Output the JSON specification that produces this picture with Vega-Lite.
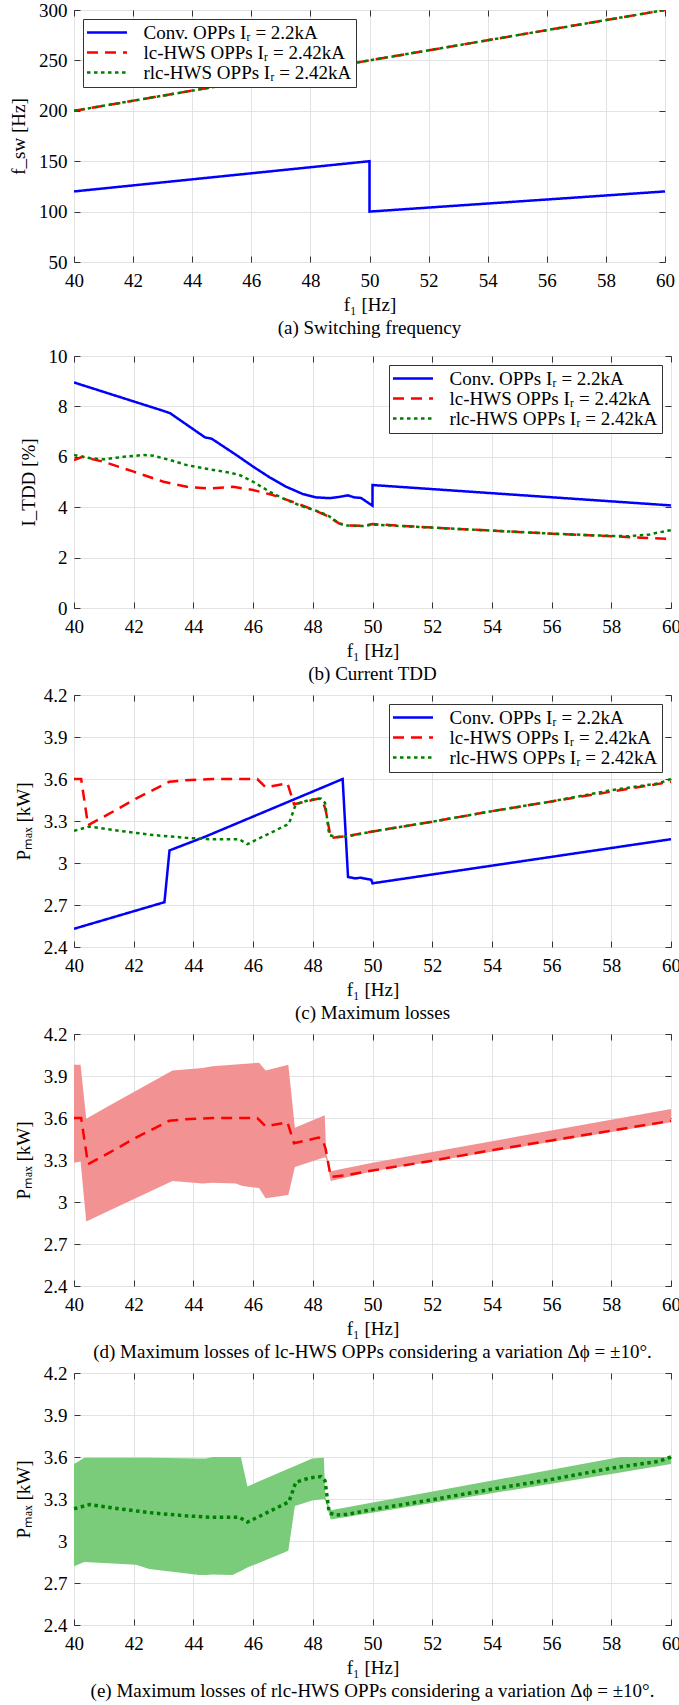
{
  "$schema": "https://vega.github.io/schema/vega-lite/v6.json",
  "padding": {"left": 9, "top": 0, "right": 0, "bottom": 0},
  "spacing": 0,
  "datasets": {
    "sw": [
      {"f1": 40, "v": 120, "s": "Conv. OPPs"}, {"f1": 50, "v": 150, "s": "Conv. OPPs"}, {"f1": 50, "v": 100, "s": "Conv. OPPs"}, {"f1": 60, "v": 120, "s": "Conv. OPPs"},
      {"f1": 40, "v": 200, "s": "lc-HWS OPPs"}, {"f1": 60, "v": 300, "s": "lc-HWS OPPs"},
      {"f1": 40, "v": 200, "s": "rlc-HWS OPPs"}, {"f1": 60, "v": 300, "s": "rlc-HWS OPPs"}
    ],
    "tdd": [
      {"f1": 40, "v": 8.95, "s": "Conv. OPPs"}, {"f1": 43.0, "v": 7.82, "s": "Conv. OPPs"}, {"f1": 43.22, "v": 7.73, "s": "Conv. OPPs"}, {"f1": 44.39, "v": 6.77, "s": "Conv. OPPs"}, {"f1": 44.61, "v": 6.72, "s": "Conv. OPPs"}, {"f1": 45.44, "v": 6.07, "s": "Conv. OPPs"}, {"f1": 46.0, "v": 5.61, "s": "Conv. OPPs"}, {"f1": 46.56, "v": 5.18, "s": "Conv. OPPs"}, {"f1": 47.11, "v": 4.81, "s": "Conv. OPPs"}, {"f1": 47.67, "v": 4.52, "s": "Conv. OPPs"}, {"f1": 48.11, "v": 4.39, "s": "Conv. OPPs"}, {"f1": 48.56, "v": 4.36, "s": "Conv. OPPs"}, {"f1": 48.9, "v": 4.41, "s": "Conv. OPPs"}, {"f1": 49.17, "v": 4.47, "s": "Conv. OPPs"}, {"f1": 49.39, "v": 4.39, "s": "Conv. OPPs"}, {"f1": 49.61, "v": 4.37, "s": "Conv. OPPs"}, {"f1": 50.0, "v": 4.06, "s": "Conv. OPPs"}, {"f1": 50.0, "v": 4.88, "s": "Conv. OPPs"}, {"f1": 60, "v": 4.07, "s": "Conv. OPPs"},
      {"f1": 40, "v": 5.87, "s": "lc-HWS OPPs"}, {"f1": 40.28, "v": 6.0, "s": "lc-HWS OPPs"}, {"f1": 41.0, "v": 5.8, "s": "lc-HWS OPPs"}, {"f1": 42.0, "v": 5.41, "s": "lc-HWS OPPs"}, {"f1": 43.0, "v": 5.01, "s": "lc-HWS OPPs"}, {"f1": 43.78, "v": 4.81, "s": "lc-HWS OPPs"}, {"f1": 44.56, "v": 4.74, "s": "lc-HWS OPPs"}, {"f1": 45.33, "v": 4.81, "s": "lc-HWS OPPs"}, {"f1": 46.0, "v": 4.68, "s": "lc-HWS OPPs"}, {"f1": 46.67, "v": 4.48, "s": "lc-HWS OPPs"}, {"f1": 47.33, "v": 4.21, "s": "lc-HWS OPPs"}, {"f1": 48.0, "v": 3.91, "s": "lc-HWS OPPs"}, {"f1": 48.5, "v": 3.64, "s": "lc-HWS OPPs"}, {"f1": 48.89, "v": 3.35, "s": "lc-HWS OPPs"}, {"f1": 49.22, "v": 3.27, "s": "lc-HWS OPPs"}, {"f1": 49.67, "v": 3.26, "s": "lc-HWS OPPs"}, {"f1": 50.0, "v": 3.33, "s": "lc-HWS OPPs"}, {"f1": 52, "v": 3.19, "s": "lc-HWS OPPs"}, {"f1": 54, "v": 3.07, "s": "lc-HWS OPPs"}, {"f1": 56, "v": 2.95, "s": "lc-HWS OPPs"}, {"f1": 58, "v": 2.85, "s": "lc-HWS OPPs"}, {"f1": 59, "v": 2.79, "s": "lc-HWS OPPs"}, {"f1": 60, "v": 2.74, "s": "lc-HWS OPPs"},
      {"f1": 40, "v": 6.07, "s": "rlc-HWS OPPs"}, {"f1": 40.56, "v": 5.94, "s": "rlc-HWS OPPs"}, {"f1": 41.0, "v": 5.9, "s": "rlc-HWS OPPs"}, {"f1": 41.67, "v": 6.0, "s": "rlc-HWS OPPs"}, {"f1": 42.33, "v": 6.07, "s": "rlc-HWS OPPs"}, {"f1": 42.67, "v": 6.04, "s": "rlc-HWS OPPs"}, {"f1": 43.22, "v": 5.87, "s": "rlc-HWS OPPs"}, {"f1": 43.78, "v": 5.67, "s": "rlc-HWS OPPs"}, {"f1": 44.56, "v": 5.5, "s": "rlc-HWS OPPs"}, {"f1": 45.22, "v": 5.37, "s": "rlc-HWS OPPs"}, {"f1": 45.56, "v": 5.27, "s": "rlc-HWS OPPs"}, {"f1": 46.0, "v": 5.01, "s": "rlc-HWS OPPs"}, {"f1": 46.56, "v": 4.61, "s": "rlc-HWS OPPs"}, {"f1": 47.0, "v": 4.35, "s": "rlc-HWS OPPs"}, {"f1": 47.67, "v": 4.02, "s": "rlc-HWS OPPs"}, {"f1": 48.11, "v": 3.86, "s": "rlc-HWS OPPs"}, {"f1": 48.5, "v": 3.68, "s": "rlc-HWS OPPs"}, {"f1": 48.89, "v": 3.35, "s": "rlc-HWS OPPs"}, {"f1": 49.17, "v": 3.27, "s": "rlc-HWS OPPs"}, {"f1": 49.67, "v": 3.25, "s": "rlc-HWS OPPs"}, {"f1": 50.0, "v": 3.31, "s": "rlc-HWS OPPs"}, {"f1": 52, "v": 3.19, "s": "rlc-HWS OPPs"}, {"f1": 54, "v": 3.07, "s": "rlc-HWS OPPs"}, {"f1": 56, "v": 2.95, "s": "rlc-HWS OPPs"}, {"f1": 58, "v": 2.86, "s": "rlc-HWS OPPs"}, {"f1": 58.6, "v": 2.85, "s": "rlc-HWS OPPs"}, {"f1": 59.29, "v": 2.92, "s": "rlc-HWS OPPs"}, {"f1": 59.6, "v": 3.0, "s": "rlc-HWS OPPs"}, {"f1": 60, "v": 3.09, "s": "rlc-HWS OPPs"}
    ],
    "loss": [
      {"f1": 40.0, "v": 2.53, "s": "Conv. OPPs"}, {"f1": 43.03, "v": 2.72, "s": "Conv. OPPs"}, {"f1": 43.2, "v": 3.09, "s": "Conv. OPPs"}, {"f1": 44.42, "v": 3.19, "s": "Conv. OPPs"}, {"f1": 44.64, "v": 3.21, "s": "Conv. OPPs"}, {"f1": 49.0, "v": 3.6, "s": "Conv. OPPs"}, {"f1": 49.18, "v": 2.9, "s": "Conv. OPPs"}, {"f1": 49.43, "v": 2.89, "s": "Conv. OPPs"}, {"f1": 49.59, "v": 2.895, "s": "Conv. OPPs"}, {"f1": 49.96, "v": 2.88, "s": "Conv. OPPs"}, {"f1": 50.0, "v": 2.855, "s": "Conv. OPPs"}, {"f1": 60, "v": 3.17, "s": "Conv. OPPs"},
      {"f1": 40, "v": 3.6, "s": "lc-HWS OPPs"}, {"f1": 40.24, "v": 3.6, "s": "lc-HWS OPPs"}, {"f1": 40.47, "v": 3.27, "s": "lc-HWS OPPs"}, {"f1": 41.08, "v": 3.34, "s": "lc-HWS OPPs"}, {"f1": 42.08, "v": 3.46, "s": "lc-HWS OPPs"}, {"f1": 43.19, "v": 3.58, "s": "lc-HWS OPPs"}, {"f1": 43.69, "v": 3.59, "s": "lc-HWS OPPs"}, {"f1": 44.64, "v": 3.6, "s": "lc-HWS OPPs"}, {"f1": 46.14, "v": 3.6, "s": "lc-HWS OPPs"}, {"f1": 46.42, "v": 3.54, "s": "lc-HWS OPPs"}, {"f1": 47.15, "v": 3.57, "s": "lc-HWS OPPs"}, {"f1": 47.37, "v": 3.42, "s": "lc-HWS OPPs"}, {"f1": 48.2, "v": 3.46, "s": "lc-HWS OPPs"}, {"f1": 48.32, "v": 3.45, "s": "lc-HWS OPPs"}, {"f1": 48.43, "v": 3.38, "s": "lc-HWS OPPs"}, {"f1": 48.6, "v": 3.18, "s": "lc-HWS OPPs"}, {"f1": 49.1, "v": 3.19, "s": "lc-HWS OPPs"}, {"f1": 50, "v": 3.225, "s": "lc-HWS OPPs"}, {"f1": 52, "v": 3.295, "s": "lc-HWS OPPs"}, {"f1": 54, "v": 3.37, "s": "lc-HWS OPPs"}, {"f1": 56, "v": 3.44, "s": "lc-HWS OPPs"}, {"f1": 58, "v": 3.51, "s": "lc-HWS OPPs"}, {"f1": 60, "v": 3.58, "s": "lc-HWS OPPs"},
      {"f1": 40, "v": 3.23, "s": "rlc-HWS OPPs"}, {"f1": 40.52, "v": 3.26, "s": "rlc-HWS OPPs"}, {"f1": 41.52, "v": 3.23, "s": "rlc-HWS OPPs"}, {"f1": 42.64, "v": 3.2, "s": "rlc-HWS OPPs"}, {"f1": 43.75, "v": 3.18, "s": "rlc-HWS OPPs"}, {"f1": 44.53, "v": 3.17, "s": "rlc-HWS OPPs"}, {"f1": 45.53, "v": 3.17, "s": "rlc-HWS OPPs"}, {"f1": 45.81, "v": 3.135, "s": "rlc-HWS OPPs"}, {"f1": 46.54, "v": 3.21, "s": "rlc-HWS OPPs"}, {"f1": 47.2, "v": 3.28, "s": "rlc-HWS OPPs"}, {"f1": 47.43, "v": 3.42, "s": "rlc-HWS OPPs"}, {"f1": 47.88, "v": 3.45, "s": "rlc-HWS OPPs"}, {"f1": 48.27, "v": 3.46, "s": "rlc-HWS OPPs"}, {"f1": 48.41, "v": 3.43, "s": "rlc-HWS OPPs"}, {"f1": 48.55, "v": 3.2, "s": "rlc-HWS OPPs"}, {"f1": 48.78, "v": 3.185, "s": "rlc-HWS OPPs"}, {"f1": 49.15, "v": 3.19, "s": "rlc-HWS OPPs"}, {"f1": 50, "v": 3.225, "s": "rlc-HWS OPPs"}, {"f1": 52, "v": 3.295, "s": "rlc-HWS OPPs"}, {"f1": 54, "v": 3.37, "s": "rlc-HWS OPPs"}, {"f1": 56, "v": 3.44, "s": "rlc-HWS OPPs"}, {"f1": 58, "v": 3.52, "s": "rlc-HWS OPPs"}, {"f1": 59.6, "v": 3.57, "s": "rlc-HWS OPPs"}, {"f1": 60, "v": 3.6, "s": "rlc-HWS OPPs"}
    ],
    "bandLc": [
      {"f1": 40.0, "lo": 3.28, "hi": 3.98}, {"f1": 40.22, "lo": 3.29, "hi": 3.98}, {"f1": 40.41, "lo": 2.86, "hi": 3.595}, {"f1": 41.19, "lo": 2.94, "hi": 3.69}, {"f1": 43.3, "lo": 3.15, "hi": 3.94}, {"f1": 44.31, "lo": 3.133, "hi": 3.958}, {"f1": 44.64, "lo": 3.138, "hi": 3.97}, {"f1": 45.42, "lo": 3.133, "hi": 3.982}, {"f1": 45.64, "lo": 3.114, "hi": 3.986}, {"f1": 46.2, "lo": 3.1, "hi": 3.995}, {"f1": 46.42, "lo": 3.026, "hi": 3.94}, {"f1": 47.18, "lo": 3.05, "hi": 3.98}, {"f1": 47.4, "lo": 3.25, "hi": 3.53}, {"f1": 48.4, "lo": 3.32, "hi": 3.62}, {"f1": 48.45, "lo": 3.31, "hi": 3.35}, {"f1": 48.6, "lo": 3.15, "hi": 3.22}, {"f1": 50, "lo": 3.22, "hi": 3.28}, {"f1": 60, "lo": 3.57, "hi": 3.665}
    ],
    "bandRlc": [
      {"f1": 40.0, "lo": 2.82, "hi": 3.55}, {"f1": 40.35, "lo": 2.85, "hi": 3.595}, {"f1": 42.08, "lo": 2.83, "hi": 3.595}, {"f1": 42.52, "lo": 2.8, "hi": 3.595}, {"f1": 44.2, "lo": 2.757, "hi": 3.59}, {"f1": 44.42, "lo": 2.758, "hi": 3.59}, {"f1": 44.64, "lo": 2.76, "hi": 3.6}, {"f1": 45.31, "lo": 2.757, "hi": 3.6}, {"f1": 45.59, "lo": 2.785, "hi": 3.6}, {"f1": 45.81, "lo": 2.81, "hi": 3.39}, {"f1": 47.18, "lo": 2.93, "hi": 3.516}, {"f1": 47.4, "lo": 3.25, "hi": 3.536}, {"f1": 47.98, "lo": 3.29, "hi": 3.59}, {"f1": 48.37, "lo": 3.3, "hi": 3.595}, {"f1": 48.42, "lo": 3.29, "hi": 3.31}, {"f1": 48.6, "lo": 3.154, "hi": 3.22}, {"f1": 58.3, "lo": 3.49, "hi": 3.6}, {"f1": 60, "lo": 3.55, "hi": 3.6}
    ]
  },
  "vconcat": [
    {
      "width": 591, "height": 252,
      "data": {"name": "sw"},
      "title": {"text": "(a) Switching frequency", "subtitle": " ", "subtitleFontSize": 7, "subtitlePadding": 0},
      "resolve": {"axis": {"x": "independent", "y": "independent"}},
      "layer": [
        {
          "mark": {"type": "line", "clip": true},
          "encoding": {
            "x": {"field": "f1", "type": "quantitative", "scale": {"domain": [40, 60]}, "axis": {"title": "f₁ [Hz]", "values": [40, 42, 44, 46, 48, 50, 52, 54, 56, 58, 60]}},
            "y": {"field": "v", "type": "quantitative", "scale": {"domain": [50, 300]}, "axis": {"title": "f_sw [Hz]", "values": [50, 100, 150, 200, 250, 300]}},
            "color": {"field": "s", "type": "nominal", "scale": {"domain": ["Conv. OPPs", "lc-HWS OPPs", "rlc-HWS OPPs"], "range": ["#0000ff", "#ff0000", "#008000"]}, "legend": {"orient": "top-left", "offset": 9, "labelExpr": "datum.label === 'Conv. OPPs' ? 'Conv. OPPs Iᵣ = 2.2kA' : datum.label + ' Iᵣ = 2.42kA'"}},
            "strokeDash": {"field": "s", "type": "nominal", "scale": {"domain": ["Conv. OPPs", "lc-HWS OPPs", "rlc-HWS OPPs"], "range": [[1, 0], [11, 7], [3.5, 3.5]]}, "legend": {"orient": "top-left", "offset": 9, "labelExpr": "datum.label === 'Conv. OPPs' ? 'Conv. OPPs Iᵣ = 2.2kA' : datum.label + ' Iᵣ = 2.42kA'"}},
            "strokeWidth": {"field": "s", "type": "nominal", "scale": {"domain": ["Conv. OPPs", "lc-HWS OPPs", "rlc-HWS OPPs"], "range": [2.5, 2.5, 3.5]}, "legend": {"orient": "top-left", "offset": 9, "labelExpr": "datum.label === 'Conv. OPPs' ? 'Conv. OPPs Iᵣ = 2.2kA' : datum.label + ' Iᵣ = 2.42kA'"}},
            "order": {"value": null}
          }
        },
        {
          "mark": {"type": "point", "opacity": 0},
          "encoding": {
            "x": {"field": "f1", "type": "quantitative", "scale": {"domain": [40, 60]}, "axis": {"orient": "top", "labels": false, "grid": false, "title": null, "values": [40, 42, 44, 46, 48, 50, 52, 54, 56, 58, 60]}},
            "y": {"field": "v", "type": "quantitative", "scale": {"domain": [50, 300]}, "axis": {"orient": "right", "labels": false, "grid": false, "title": null, "values": [50, 100, 150, 200, 250, 300]}}
          }
        }
      ]
    },
    {
      "width": 597, "height": 252,
      "data": {"name": "tdd"},
      "title": {"text": "(b) Current TDD"},
      "resolve": {"axis": {"x": "independent", "y": "independent"}},
      "layer": [
        {
          "mark": {"type": "line", "clip": true},
          "encoding": {
            "x": {"field": "f1", "type": "quantitative", "scale": {"domain": [40, 60]}, "axis": {"title": "f₁ [Hz]", "values": [40, 42, 44, 46, 48, 50, 52, 54, 56, 58, 60]}},
            "y": {"field": "v", "type": "quantitative", "scale": {"domain": [0, 10]}, "axis": {"title": "I_TDD [%]", "values": [0, 2, 4, 6, 8, 10]}},
            "color": {"field": "s", "type": "nominal", "scale": {"domain": ["Conv. OPPs", "lc-HWS OPPs", "rlc-HWS OPPs"], "range": ["#0000ff", "#ff0000", "#008000"]}, "legend": {"orient": "top-right", "offset": 9, "labelExpr": "datum.label === 'Conv. OPPs' ? 'Conv. OPPs Iᵣ = 2.2kA' : datum.label + ' Iᵣ = 2.42kA'"}},
            "strokeDash": {"field": "s", "type": "nominal", "scale": {"domain": ["Conv. OPPs", "lc-HWS OPPs", "rlc-HWS OPPs"], "range": [[1, 0], [11, 7], [3.5, 3.5]]}, "legend": {"orient": "top-right", "offset": 9, "labelExpr": "datum.label === 'Conv. OPPs' ? 'Conv. OPPs Iᵣ = 2.2kA' : datum.label + ' Iᵣ = 2.42kA'"}},
            "strokeWidth": {"field": "s", "type": "nominal", "scale": {"domain": ["Conv. OPPs", "lc-HWS OPPs", "rlc-HWS OPPs"], "range": [2.5, 2.5, 3.5]}, "legend": {"orient": "top-right", "offset": 9, "labelExpr": "datum.label === 'Conv. OPPs' ? 'Conv. OPPs Iᵣ = 2.2kA' : datum.label + ' Iᵣ = 2.42kA'"}},
            "order": {"value": null}
          }
        },
        {
          "mark": {"type": "point", "opacity": 0},
          "encoding": {
            "x": {"field": "f1", "type": "quantitative", "scale": {"domain": [40, 60]}, "axis": {"orient": "top", "labels": false, "grid": false, "title": null, "values": [40, 42, 44, 46, 48, 50, 52, 54, 56, 58, 60]}},
            "y": {"field": "v", "type": "quantitative", "scale": {"domain": [0, 10]}, "axis": {"orient": "right", "labels": false, "grid": false, "title": null, "values": [0, 2, 4, 6, 8, 10]}}
          }
        }
      ]
    },
    {
      "width": 597, "height": 252,
      "data": {"name": "loss"},
      "title": {"text": "(c) Maximum losses"},
      "resolve": {"axis": {"x": "independent", "y": "independent"}},
      "layer": [
        {
          "mark": {"type": "line", "clip": true},
          "encoding": {
            "x": {"field": "f1", "type": "quantitative", "scale": {"domain": [40, 60]}, "axis": {"title": "f₁ [Hz]", "values": [40, 42, 44, 46, 48, 50, 52, 54, 56, 58, 60]}},
            "y": {"field": "v", "type": "quantitative", "scale": {"domain": [2.4, 4.2]}, "axis": {"title": "Pₘₐₓ [kW]", "values": [2.4, 2.7, 3, 3.3, 3.6, 3.9, 4.2], "format": "~g"}},
            "color": {"field": "s", "type": "nominal", "scale": {"domain": ["Conv. OPPs", "lc-HWS OPPs", "rlc-HWS OPPs"], "range": ["#0000ff", "#ff0000", "#008000"]}, "legend": {"orient": "top-right", "offset": 9, "labelExpr": "datum.label === 'Conv. OPPs' ? 'Conv. OPPs Iᵣ = 2.2kA' : datum.label + ' Iᵣ = 2.42kA'"}},
            "strokeDash": {"field": "s", "type": "nominal", "scale": {"domain": ["Conv. OPPs", "lc-HWS OPPs", "rlc-HWS OPPs"], "range": [[1, 0], [11, 7], [3.5, 3.5]]}, "legend": {"orient": "top-right", "offset": 9, "labelExpr": "datum.label === 'Conv. OPPs' ? 'Conv. OPPs Iᵣ = 2.2kA' : datum.label + ' Iᵣ = 2.42kA'"}},
            "strokeWidth": {"field": "s", "type": "nominal", "scale": {"domain": ["Conv. OPPs", "lc-HWS OPPs", "rlc-HWS OPPs"], "range": [2.5, 2.5, 3.5]}, "legend": {"orient": "top-right", "offset": 9, "labelExpr": "datum.label === 'Conv. OPPs' ? 'Conv. OPPs Iᵣ = 2.2kA' : datum.label + ' Iᵣ = 2.42kA'"}},
            "order": {"value": null}
          }
        },
        {
          "mark": {"type": "point", "opacity": 0},
          "encoding": {
            "x": {"field": "f1", "type": "quantitative", "scale": {"domain": [40, 60]}, "axis": {"orient": "top", "labels": false, "grid": false, "title": null, "values": [40, 42, 44, 46, 48, 50, 52, 54, 56, 58, 60]}},
            "y": {"field": "v", "type": "quantitative", "scale": {"domain": [2.4, 4.2]}, "axis": {"orient": "right", "labels": false, "grid": false, "title": null, "values": [2.4, 2.7, 3, 3.3, 3.6, 3.9, 4.2]}}
          }
        }
      ]
    },
    {
      "width": 597, "height": 252,
      "title": {"text": "(d) Maximum losses of lc-HWS OPPs considering a variation Δϕ = ±10°."},
      "resolve": {"axis": {"x": "independent", "y": "independent"}},
      "layer": [
        {
          "data": {"name": "bandLc"},
          "mark": {"type": "area", "color": "#f39292", "opacity": 1},
          "encoding": {
            "x": {"field": "f1", "type": "quantitative", "scale": {"domain": [40, 60]}, "axis": {"title": "f₁ [Hz]", "values": [40, 42, 44, 46, 48, 50, 52, 54, 56, 58, 60]}},
            "y": {"field": "hi", "type": "quantitative", "scale": {"domain": [2.4, 4.2]}, "axis": {"title": "Pₘₐₓ [kW]", "values": [2.4, 2.7, 3, 3.3, 3.6, 3.9, 4.2], "format": "~g"}},
            "y2": {"field": "lo"}
          }
        },
        {
          "data": {"name": "loss"},
          "transform": [{"filter": "datum.s === 'lc-HWS OPPs'"}],
          "mark": {"type": "line", "color": "#ff0000", "strokeDash": [11, 7], "strokeWidth": 2.5},
          "encoding": {
            "x": {"field": "f1", "type": "quantitative", "scale": {"domain": [40, 60]}, "axis": {"orient": "top", "labels": false, "grid": false, "title": null, "values": [40, 42, 44, 46, 48, 50, 52, 54, 56, 58, 60]}},
            "y": {"field": "v", "type": "quantitative", "scale": {"domain": [2.4, 4.2]}, "axis": {"orient": "right", "labels": false, "grid": false, "title": null, "values": [2.4, 2.7, 3, 3.3, 3.6, 3.9, 4.2]}},
            "order": {"value": null}
          }
        }
      ]
    },
    {
      "width": 597, "height": 252,
      "title": {"text": "(e) Maximum losses of rlc-HWS OPPs considering a variation Δϕ = ±10°."},
      "resolve": {"axis": {"x": "independent", "y": "independent"}},
      "layer": [
        {
          "data": {"name": "bandRlc"},
          "mark": {"type": "area", "color": "#7acb7a", "opacity": 1},
          "encoding": {
            "x": {"field": "f1", "type": "quantitative", "scale": {"domain": [40, 60]}, "axis": {"title": "f₁ [Hz]", "values": [40, 42, 44, 46, 48, 50, 52, 54, 56, 58, 60]}},
            "y": {"field": "hi", "type": "quantitative", "scale": {"domain": [2.4, 4.2]}, "axis": {"title": "Pₘₐₓ [kW]", "values": [2.4, 2.7, 3, 3.3, 3.6, 3.9, 4.2], "format": "~g"}},
            "y2": {"field": "lo"}
          }
        },
        {
          "data": {"name": "loss"},
          "transform": [{"filter": "datum.s === 'rlc-HWS OPPs'"}],
          "mark": {"type": "line", "color": "#008000", "strokeDash": [3.5, 3.5], "strokeWidth": 3.5},
          "encoding": {
            "x": {"field": "f1", "type": "quantitative", "scale": {"domain": [40, 60]}, "axis": {"orient": "top", "labels": false, "grid": false, "title": null, "values": [40, 42, 44, 46, 48, 50, 52, 54, 56, 58, 60]}},
            "y": {"field": "v", "type": "quantitative", "scale": {"domain": [2.4, 4.2]}, "axis": {"orient": "right", "labels": false, "grid": false, "title": null, "values": [2.4, 2.7, 3, 3.3, 3.6, 3.9, 4.2]}},
            "order": {"value": null}
          }
        }
      ]
    }
  ],
  "config": {
    "font": "Liberation Serif",
    "view": {"stroke": "#333333", "strokeWidth": 1},
    "axis": {
      "labelFont": "Liberation Serif", "labelFontSize": 19, "labelColor": "#000000",
      "titleFont": "Liberation Serif", "titleFontSize": 19, "titleFontWeight": "normal", "titleColor": "#000000",
      "gridColor": "#e3e3e3", "gridWidth": 1, "domain": false,
      "tickSize": -6, "tickColor": "#333333", "tickWidth": 1,
      "labelFlush": false, "labelOverlap": false
    },
    "axisX": {"labelPadding": 15, "titlePadding": 5},
    "axisY": {"labelPadding": 13, "titlePadding": 10},
    "legend": {
      "title": null, "fillColor": "#ffffff", "strokeColor": "#333333", "padding": 4,
      "labelFont": "Liberation Serif", "labelFontSize": 19, "labelColor": "#000000",
      "symbolType": "M-4,0H4", "symbolSize": 100, "symbolOffset": 10.5, "rowPadding": -6, "labelOffset": 27, "labelLimit": 400
    },
    "title": {"font": "Liberation Serif", "fontSize": 19, "fontWeight": "normal", "color": "#000000", "orient": "bottom", "anchor": "middle", "offset": 5}
  }
}
